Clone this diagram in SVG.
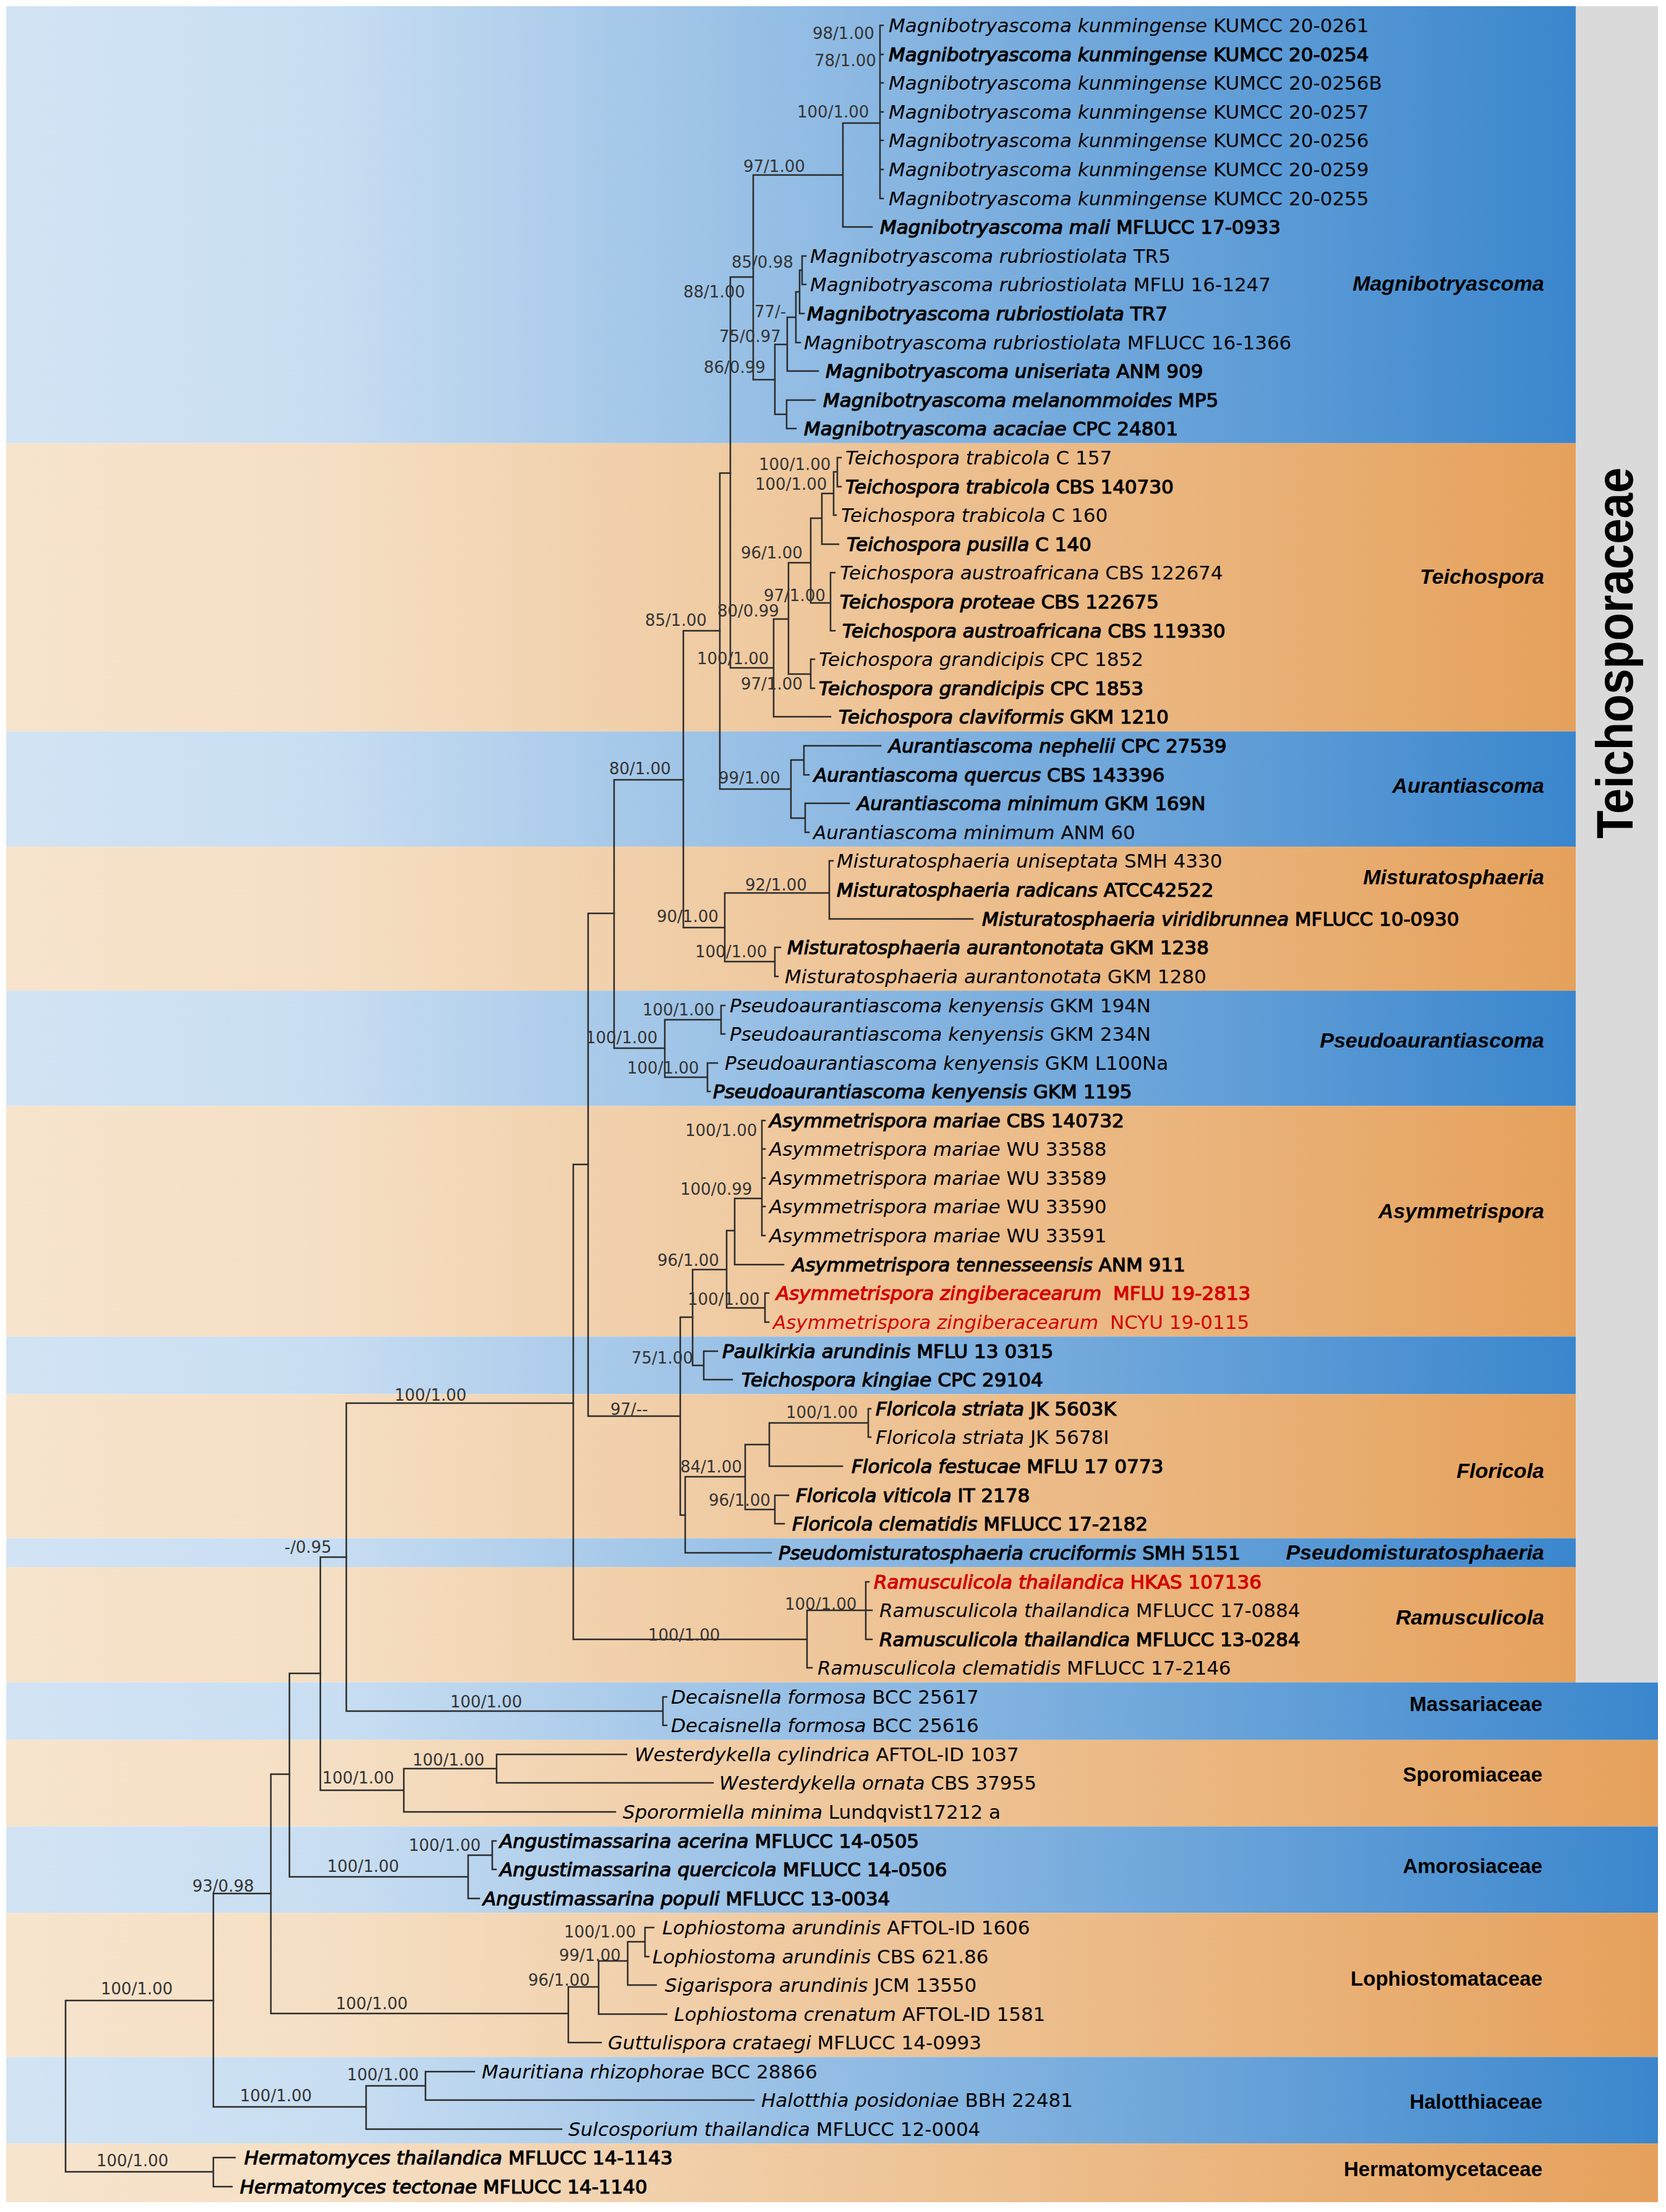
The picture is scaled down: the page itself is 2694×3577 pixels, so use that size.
<svg xmlns="http://www.w3.org/2000/svg" width="2694" height="3577" viewBox="0 0 2694 3577">
<style>
.t{font-family:"DejaVu Sans",Verdana,sans-serif;font-size:31px;fill:#000}
.i{font-style:italic}
.b{stroke:#000;stroke-width:1.2px}
.r{fill:#d40000}
.rb{fill:#d40000;stroke:#d40000;stroke-width:1.2px}
.s{font-family:"DejaVu Sans",Verdana,sans-serif;font-size:26px;fill:#333}
.c{font-family:"Liberation Sans",Arial,sans-serif;font-size:34px;font-weight:bold;font-style:italic;fill:#000;text-anchor:end}
.f{font-family:"Liberation Sans",Arial,sans-serif;font-size:33px;font-weight:bold;fill:#000;text-anchor:end}
.br path{fill:none;stroke:#2b2b2b;stroke-width:2.5;stroke-linecap:square}
</style>
<defs>
<linearGradient id="gb" x1="0" y1="0" x2="1" y2="0">
<stop offset="0" stop-color="#d2e4f4"/>
<stop offset="0.2" stop-color="#c9def2"/>
<stop offset="1" stop-color="#3a86cd"/>
</linearGradient>
<linearGradient id="go" x1="0" y1="0" x2="1" y2="0">
<stop offset="0" stop-color="#f7e4cd"/>
<stop offset="0.2" stop-color="#f5dfc4"/>
<stop offset="1" stop-color="#e5a15c"/>
</linearGradient>
</defs>
<rect width="2694" height="3577" fill="#fff"/>
<g id="bands">
<rect x="10" y="10" width="2538" height="706.7" fill="url(#gb)"/>
<rect x="10" y="716.7" width="2538" height="466" fill="url(#go)"/>
<rect x="10" y="1182.7" width="2538" height="186.4" fill="url(#gb)"/>
<rect x="10" y="1369.1" width="2538" height="233" fill="url(#go)"/>
<rect x="10" y="1602.1" width="2538" height="186.4" fill="url(#gb)"/>
<rect x="10" y="1788.5" width="2538" height="372.8" fill="url(#go)"/>
<rect x="10" y="2161.3" width="2538" height="93.2" fill="url(#gb)"/>
<rect x="10" y="2254.5" width="2538" height="233" fill="url(#go)"/>
<rect x="10" y="2487.5" width="2538" height="46.6" fill="url(#gb)"/>
<rect x="10" y="2534.1" width="2538" height="186.4" fill="url(#go)"/>
<rect x="10" y="2720.5" width="2671" height="93.2" fill="url(#gb)"/>
<rect x="10" y="2813.7" width="2671" height="139.8" fill="url(#go)"/>
<rect x="10" y="2953.5" width="2671" height="139.8" fill="url(#gb)"/>
<rect x="10" y="3093.3" width="2671" height="233" fill="url(#go)"/>
<rect x="10" y="3326.3" width="2671" height="139.8" fill="url(#gb)"/>
<rect x="10" y="3466.1" width="2671" height="95" fill="url(#go)"/>
<rect x="2548" y="10" width="133" height="2710.5" fill="#dadada"/>
</g>
<g id="family-teichosporaceae">
<text transform="translate(2640,1056) rotate(-90)" font-family="'Liberation Sans',Arial,sans-serif" font-size="84" font-weight="bold" text-anchor="middle" textLength="600" lengthAdjust="spacingAndGlyphs">Teichosporaceae</text>
</g>
<g id="connectors" class="br">
<path d="M106 3235V3512M106 3235H345M106 3512H345M345 3489V3536M345 3489H380M345 3536H375"/>
<path d="M345 3062V3407M345 3062H438M345 3407H592M592 3373V3443M592 3373H688M592 3443H908M688 3350V3396M688 3350H767M688 3396H1219"/>
<path d="M438 2869V3256M438 2869H468M438 3256H919M919 3213V3303M919 3213H968M919 3303H972M968 3171V3257M968 3171H1015M968 3257H1078M1015 3140V3210M1015 3140H1043M1015 3210H1061M1043 3117V3164M1043 3117H1057M1043 3164H1049"/>
<path d="M468 2706V3035M468 2706H518M468 3035H757M757 3000V3070M757 3000H796M757 3070H775M796 2977V3023M796 2977H802M796 3023H802"/>
<path d="M518 2518V2895M518 2518H560M518 2895H653M653 2860V2930M653 2860H803M653 2930H995M803 2837V2883M803 2837H1013M803 2883H1153"/>
<path d="M560 2269V2767M560 2269H927M560 2767H1072M1072 2744V2790M1072 2744H1078M1072 2790H1078"/>
<path d="M927 1883V2651M927 1883H951M927 2651H1305M1305 2604V2697M1305 2604H1400M1305 2697H1313M1400 2558V2651M1400 2558H1405M1400 2604H1410M1400 2651H1410"/>
<path d="M951 1477V2290M951 1477H993M951 2290H1100M1100 2130V2450M1100 2130H1120M1100 2450H1108"/>
<path d="M1108 2388V2511M1108 2388H1205M1108 2511H1247M1205 2336V2441M1205 2336H1244M1205 2441H1253M1244 2301V2371M1244 2301H1404M1244 2371H1362M1404 2278V2324M1404 2278H1408M1404 2324H1408M1253 2418V2464M1253 2418H1275M1253 2464H1268"/>
<path d="M1120 2053V2208M1120 2053H1175M1120 2208H1138M1138 2185V2231M1138 2185H1160M1138 2231H1184M1175 1990V2115M1175 1990H1188M1175 2115H1237M1237 2091V2138M1237 2091H1243M1237 2138H1243M1188 1938V2045M1188 1938H1232M1188 2045H1267M1232 1812V1998M1232 1812H1237M1232 1858H1237M1232 1905H1237M1232 1951H1237M1232 1998H1237"/>
<path d="M993 1261V1695M993 1261H1105M993 1695H1075M1075 1649V1742M1075 1649H1166M1075 1742H1144M1166 1626V1672M1166 1626H1172M1166 1672H1172M1144 1719V1765M1144 1719H1160M1144 1765H1148"/>
<path d="M1105 1020V1500M1105 1020H1164M1105 1500H1172M1172 1444V1555M1172 1444H1341M1172 1555H1253M1341 1392V1486M1341 1392H1347M1341 1486H1573M1253 1532V1579M1253 1532H1262M1253 1579H1258"/>
<path d="M1164 765V1276M1164 765H1181M1164 1276H1279M1279 1229V1323M1279 1229H1300M1279 1323H1302M1300 1206V1253M1300 1206H1424M1300 1253H1308M1302 1299V1346M1302 1299H1373M1302 1346H1308"/>
<path d="M1181 448V1080M1181 448H1218M1181 1080H1251M1251 1001V1159M1251 1001H1275M1251 1159H1343M1275 910V1090M1275 910H1311M1275 1090H1311M1311 1066V1113M1311 1066H1317M1311 1113H1317M1311 838V975M1311 838H1329M1311 975H1343M1343 926V1020M1343 926H1350M1343 1020H1350M1329 798V880M1329 798H1348M1329 880H1356M1348 763V833M1348 763H1354M1348 833H1352M1354 740V787M1354 740H1360M1354 787H1360"/>
<path d="M1218 283V614M1218 283H1363M1218 614H1253M1363 199V367M1363 199H1423M1363 367H1410M1423 41V321M1423 41H1428M1423 88H1428M1423 134H1428M1423 181H1428M1423 227H1428M1423 274H1428M1423 321H1428"/>
<path d="M1253 557V670M1253 557H1273M1253 670H1272M1272 647V693M1272 647H1318M1272 693H1287M1273 513V600M1273 513H1287M1273 600H1323M1287 472V554M1287 472H1293M1287 554H1294M1293 437V507M1293 437H1297M1293 507H1300M1297 414V460M1297 414H1303M1297 460H1303"/>
</g>
<g id="support-values" class="s">
<text x="1314" y="63">98/1.00</text>
<text x="1317" y="107">78/1.00</text>
<text x="1289" y="190">100/1.00</text>
<text x="1202" y="278">97/1.00</text>
<text x="1183" y="433">85/0.98</text>
<text x="1105" y="481">88/1.00</text>
<text x="1220" y="513">77/-</text>
<text x="1163" y="553">75/0.97</text>
<text x="1138" y="603">86/0.99</text>
<text x="1227" y="760">100/1.00</text>
<text x="1221" y="792">100/1.00</text>
<text x="1198" y="903">96/1.00</text>
<text x="1235" y="972">97/1.00</text>
<text x="1160" y="997">80/0.99</text>
<text x="1043" y="1012">85/1.00</text>
<text x="1127" y="1074">100/1.00</text>
<text x="1198" y="1115">97/1.00</text>
<text x="985" y="1252">80/1.00</text>
<text x="1162" y="1267">99/1.00</text>
<text x="1205" y="1440">92/1.00</text>
<text x="1062" y="1491">90/1.00</text>
<text x="1124" y="1548">100/1.00</text>
<text x="1039" y="1642">100/1.00</text>
<text x="947" y="1687">100/1.00</text>
<text x="1014" y="1736">100/1.00</text>
<text x="1108" y="1837">100/1.00</text>
<text x="1100" y="1932">100/0.99</text>
<text x="1063" y="2047">96/1.00</text>
<text x="1112" y="2110">100/1.00</text>
<text x="1021" y="2205">75/1.00</text>
<text x="987" y="2288">97/--</text>
<text x="638" y="2265">100/1.00</text>
<text x="1271" y="2293">100/1.00</text>
<text x="1100" y="2381">84/1.00</text>
<text x="1146" y="2435">96/1.00</text>
<text x="460" y="2511">-/0.95</text>
<text x="1269" y="2603">100/1.00</text>
<text x="1048" y="2653">100/1.00</text>
<text x="728" y="2761">100/1.00</text>
<text x="667" y="2855">100/1.00</text>
<text x="521" y="2884">100/1.00</text>
<text x="661" y="2993">100/1.00</text>
<text x="529" y="3027">100/1.00</text>
<text x="311" y="3059">93/0.98</text>
<text x="912" y="3133">100/1.00</text>
<text x="904" y="3171">99/1.00</text>
<text x="854" y="3211">96/1.00</text>
<text x="543" y="3249">100/1.00</text>
<text x="163" y="3225">100/1.00</text>
<text x="561" y="3364">100/1.00</text>
<text x="388" y="3398">100/1.00</text>
<text x="156" y="3503">100/1.00</text>
</g>
<g id="taxa">
<g id="leaf-01"><text class="t" x="1437" y="52"><tspan class="i">Magnibotryascoma kunmingense</tspan> KUMCC 20-0261</text></g>
<g id="leaf-02"><text class="t b" x="1437" y="99"><tspan class="i">Magnibotryascoma kunmingense</tspan> KUMCC 20-0254</text></g>
<g id="leaf-03"><text class="t" x="1437" y="145"><tspan class="i">Magnibotryascoma kunmingense</tspan> KUMCC 20-0256B</text></g>
<g id="leaf-04"><text class="t" x="1437" y="192"><tspan class="i">Magnibotryascoma kunmingense</tspan> KUMCC 20-0257</text></g>
<g id="leaf-05"><text class="t" x="1437" y="238"><tspan class="i">Magnibotryascoma kunmingense</tspan> KUMCC 20-0256</text></g>
<g id="leaf-06"><text class="t" x="1437" y="285"><tspan class="i">Magnibotryascoma kunmingense</tspan> KUMCC 20-0259</text></g>
<g id="leaf-07"><text class="t" x="1437" y="332"><tspan class="i">Magnibotryascoma kunmingense</tspan> KUMCC 20-0255</text></g>
<g id="leaf-08"><text class="t b" x="1423" y="378"><tspan class="i">Magnibotryascoma mali</tspan> MFLUCC 17-0933</text></g>
<g id="leaf-09"><text class="t" x="1310" y="425"><tspan class="i">Magnibotryascoma rubriostiolata</tspan> TR5</text></g>
<g id="leaf-10"><text class="t" x="1310" y="471"><tspan class="i">Magnibotryascoma rubriostiolata</tspan> MFLU 16-1247</text></g>
<g id="leaf-11"><text class="t b" x="1305" y="518"><tspan class="i">Magnibotryascoma rubriostiolata</tspan> TR7</text></g>
<g id="leaf-12"><text class="t" x="1300" y="565"><tspan class="i">Magnibotryascoma rubriostiolata</tspan> MFLUCC 16-1366</text></g>
<g id="leaf-13"><text class="t b" x="1335" y="611"><tspan class="i">Magnibotryascoma uniseriata</tspan> ANM 909</text></g>
<g id="leaf-14"><text class="t b" x="1331" y="658"><tspan class="i">Magnibotryascoma melanommoides</tspan> MP5</text></g>
<g id="leaf-15"><text class="t b" x="1300" y="704"><tspan class="i">Magnibotryascoma acaciae</tspan> CPC 24801</text></g>
<g id="leaf-16"><text class="t" x="1367" y="751"><tspan class="i">Teichospora trabicola</tspan> C 157</text></g>
<g id="leaf-17"><text class="t b" x="1367" y="798"><tspan class="i">Teichospora trabicola</tspan> CBS 140730</text></g>
<g id="leaf-18"><text class="t" x="1360" y="844"><tspan class="i">Teichospora trabicola</tspan> C 160</text></g>
<g id="leaf-19"><text class="t b" x="1369" y="891"><tspan class="i">Teichospora pusilla</tspan> C 140</text></g>
<g id="leaf-20"><text class="t" x="1358" y="937"><tspan class="i">Teichospora austroafricana</tspan> CBS 122674</text></g>
<g id="leaf-21"><text class="t b" x="1358" y="984"><tspan class="i">Teichospora proteae</tspan> CBS 122675</text></g>
<g id="leaf-22"><text class="t b" x="1362" y="1031"><tspan class="i">Teichospora austroafricana</tspan> CBS 119330</text></g>
<g id="leaf-23"><text class="t" x="1324" y="1077"><tspan class="i">Teichospora grandicipis</tspan> CPC 1852</text></g>
<g id="leaf-24"><text class="t b" x="1324" y="1124"><tspan class="i">Teichospora grandicipis</tspan> CPC 1853</text></g>
<g id="leaf-25"><text class="t b" x="1356" y="1170"><tspan class="i">Teichospora claviformis</tspan> GKM 1210</text></g>
<g id="leaf-26"><text class="t b" x="1437" y="1217"><tspan class="i">Aurantiascoma nephelii</tspan> CPC 27539</text></g>
<g id="leaf-27"><text class="t b" x="1316" y="1264"><tspan class="i">Aurantiascoma quercus</tspan> CBS 143396</text></g>
<g id="leaf-28"><text class="t b" x="1386" y="1310"><tspan class="i">Aurantiascoma minimum</tspan> GKM 169N</text></g>
<g id="leaf-29"><text class="t" x="1315" y="1357"><tspan class="i">Aurantiascoma minimum</tspan> ANM 60</text></g>
<g id="leaf-30"><text class="t" x="1353" y="1403"><tspan class="i">Misturatosphaeria uniseptata</tspan> SMH 4330</text></g>
<g id="leaf-31"><text class="t b" x="1353" y="1450"><tspan class="i">Misturatosphaeria radicans</tspan> ATCC42522</text></g>
<g id="leaf-32"><text class="t b" x="1588" y="1497"><tspan class="i">Misturatosphaeria viridibrunnea</tspan> MFLUCC 10-0930</text></g>
<g id="leaf-33"><text class="t b" x="1273" y="1543"><tspan class="i">Misturatosphaeria aurantonotata</tspan> GKM 1238</text></g>
<g id="leaf-34"><text class="t" x="1269" y="1590"><tspan class="i">Misturatosphaeria aurantonotata</tspan> GKM 1280</text></g>
<g id="leaf-35"><text class="t" x="1180" y="1637"><tspan class="i">Pseudoaurantiascoma kenyensis</tspan> GKM 194N</text></g>
<g id="leaf-36"><text class="t" x="1180" y="1683"><tspan class="i">Pseudoaurantiascoma kenyensis</tspan> GKM 234N</text></g>
<g id="leaf-37"><text class="t" x="1172" y="1730"><tspan class="i">Pseudoaurantiascoma kenyensis</tspan> GKM L100Na</text></g>
<g id="leaf-38"><text class="t b" x="1153" y="1776"><tspan class="i">Pseudoaurantiascoma kenyensis</tspan> GKM 1195</text></g>
<g id="leaf-39"><text class="t b" x="1244" y="1823"><tspan class="i">Asymmetrispora mariae</tspan> CBS 140732</text></g>
<g id="leaf-40"><text class="t" x="1244" y="1869"><tspan class="i">Asymmetrispora mariae</tspan> WU 33588</text></g>
<g id="leaf-41"><text class="t" x="1244" y="1916"><tspan class="i">Asymmetrispora mariae</tspan> WU 33589</text></g>
<g id="leaf-42"><text class="t" x="1244" y="1962"><tspan class="i">Asymmetrispora mariae</tspan> WU 33590</text></g>
<g id="leaf-43"><text class="t" x="1244" y="2009"><tspan class="i">Asymmetrispora mariae</tspan> WU 33591</text></g>
<g id="leaf-44"><text class="t b" x="1281" y="2056"><tspan class="i">Asymmetrispora tennesseensis</tspan> ANM 911</text></g>
<g id="leaf-45"><text class="t rb" x="1255" y="2102"><tspan class="i">Asymmetrispora zingiberacearum</tspan> <tspan dx="9">MFLU 19-2813</tspan></text></g>
<g id="leaf-46"><text class="t r" x="1250" y="2149"><tspan class="i">Asymmetrispora zingiberacearum</tspan> <tspan dx="9">NCYU 19-0115</tspan></text></g>
<g id="leaf-47"><text class="t b" x="1168" y="2196"><tspan class="i">Paulkirkia arundinis</tspan> MFLU 13 0315</text></g>
<g id="leaf-48"><text class="t b" x="1199" y="2242"><tspan class="i">Teichospora kingiae</tspan> CPC 29104</text></g>
<g id="leaf-49"><text class="t b" x="1416" y="2289"><tspan class="i">Floricola striata</tspan> JK 5603K</text></g>
<g id="leaf-50"><text class="t" x="1416" y="2335"><tspan class="i">Floricola striata</tspan> JK 5678I</text></g>
<g id="leaf-51"><text class="t b" x="1377" y="2382"><tspan class="i">Floricola festucae</tspan> MFLU 17 0773</text></g>
<g id="leaf-52"><text class="t b" x="1287" y="2429"><tspan class="i">Floricola viticola</tspan> IT 2178</text></g>
<g id="leaf-53"><text class="t b" x="1281" y="2475"><tspan class="i">Floricola clematidis</tspan> MFLUCC 17-2182</text></g>
<g id="leaf-54"><text class="t b" x="1259" y="2522"><tspan class="i">Pseudomisturatosphaeria cruciformis</tspan> SMH 5151</text></g>
<g id="leaf-55"><text class="t rb" x="1413" y="2569"><tspan class="i">Ramusculicola thailandica</tspan> HKAS 107136</text></g>
<g id="leaf-56"><text class="t" x="1422" y="2615"><tspan class="i">Ramusculicola thailandica</tspan> MFLUCC 17-0884</text></g>
<g id="leaf-57"><text class="t b" x="1422" y="2662"><tspan class="i">Ramusculicola thailandica</tspan> MFLUCC 13-0284</text></g>
<g id="leaf-58"><text class="t" x="1322" y="2708"><tspan class="i">Ramusculicola clematidis</tspan> MFLUCC 17-2146</text></g>
<g id="leaf-59"><text class="t" x="1085" y="2755"><tspan class="i">Decaisnella formosa</tspan> BCC 25617</text></g>
<g id="leaf-60"><text class="t" x="1085" y="2801"><tspan class="i">Decaisnella formosa</tspan> BCC 25616</text></g>
<g id="leaf-61"><text class="t" x="1026" y="2848"><tspan class="i">Westerdykella cylindrica</tspan> AFTOL-ID 1037</text></g>
<g id="leaf-62"><text class="t" x="1163" y="2894"><tspan class="i">Westerdykella ornata</tspan> CBS 37955</text></g>
<g id="leaf-63"><text class="t" x="1007" y="2941"><tspan class="i">Sporormiella minima</tspan> Lundqvist17212 a</text></g>
<g id="leaf-64"><text class="t b" x="808" y="2988"><tspan class="i">Angustimassarina acerina</tspan> MFLUCC 14-0505</text></g>
<g id="leaf-65"><text class="t b" x="808" y="3034"><tspan class="i">Angustimassarina quercicola</tspan> MFLUCC 14-0506</text></g>
<g id="leaf-66"><text class="t b" x="781" y="3081"><tspan class="i">Angustimassarina populi</tspan> MFLUCC 13-0034</text></g>
<g id="leaf-67"><text class="t" x="1071" y="3128"><tspan class="i">Lophiostoma arundinis</tspan> AFTOL-ID 1606</text></g>
<g id="leaf-68"><text class="t" x="1055" y="3175"><tspan class="i">Lophiostoma arundinis</tspan> CBS 621.86</text></g>
<g id="leaf-69"><text class="t" x="1075" y="3221"><tspan class="i">Sigarispora arundinis</tspan> JCM 13550</text></g>
<g id="leaf-70"><text class="t" x="1090" y="3268"><tspan class="i">Lophiostoma crenatum</tspan> AFTOL-ID 1581</text></g>
<g id="leaf-71"><text class="t" x="983" y="3314"><tspan class="i">Guttulispora crataegi</tspan> MFLUCC 14-0993</text></g>
<g id="leaf-72"><text class="t" x="779" y="3361"><tspan class="i">Mauritiana rhizophorae</tspan> BCC 28866</text></g>
<g id="leaf-73"><text class="t" x="1231" y="3407"><tspan class="i">Halotthia posidoniae</tspan> BBH 22481</text></g>
<g id="leaf-74"><text class="t" x="919" y="3454"><tspan class="i">Sulcosporium thailandica</tspan> MFLUCC 12-0004</text></g>
<g id="leaf-75"><text class="t b" x="395" y="3500"><tspan class="i">Hermatomyces thailandica</tspan> MFLUCC 14-1143</text></g>
<g id="leaf-76"><text class="t b" x="388" y="3547"><tspan class="i">Hermatomyces tectonae</tspan> MFLUCC 14-1140</text></g>
</g>
<g id="clade-labels">
<g id="clade-magnibotryascoma"><text class="c" x="2497" y="470">Magnibotryascoma</text></g>
<g id="clade-teichospora"><text class="c" x="2497" y="944">Teichospora</text></g>
<g id="clade-aurantiascoma"><text class="c" x="2497" y="1282">Aurantiascoma</text></g>
<g id="clade-misturatosphaeria"><text class="c" x="2497" y="1430">Misturatosphaeria</text></g>
<g id="clade-pseudoaurantiascoma"><text class="c" x="2497" y="1694">Pseudoaurantiascoma</text></g>
<g id="clade-asymmetrispora"><text class="c" x="2497" y="1970">Asymmetrispora</text></g>
<g id="clade-floricola"><text class="c" x="2497" y="2390">Floricola</text></g>
<g id="clade-pseudomisturatosphaeria"><text class="c" x="2497" y="2522">Pseudomisturatosphaeria</text></g>
<g id="clade-ramusculicola"><text class="c" x="2497" y="2627">Ramusculicola</text></g>
<g id="family-massariaceae"><text class="f" x="2494" y="2767">Massariaceae</text></g>
<g id="family-sporomiaceae"><text class="f" x="2494" y="2881">Sporomiaceae</text></g>
<g id="family-amorosiaceae"><text class="f" x="2494" y="3029">Amorosiaceae</text></g>
<g id="family-lophiostomataceae"><text class="f" x="2494" y="3211">Lophiostomataceae</text></g>
<g id="family-halotthiaceae"><text class="f" x="2494" y="3410">Halotthiaceae</text></g>
<g id="family-hermatomycetaceae"><text class="f" x="2494" y="3519">Hermatomycetaceae</text></g>
</g>
</svg>
